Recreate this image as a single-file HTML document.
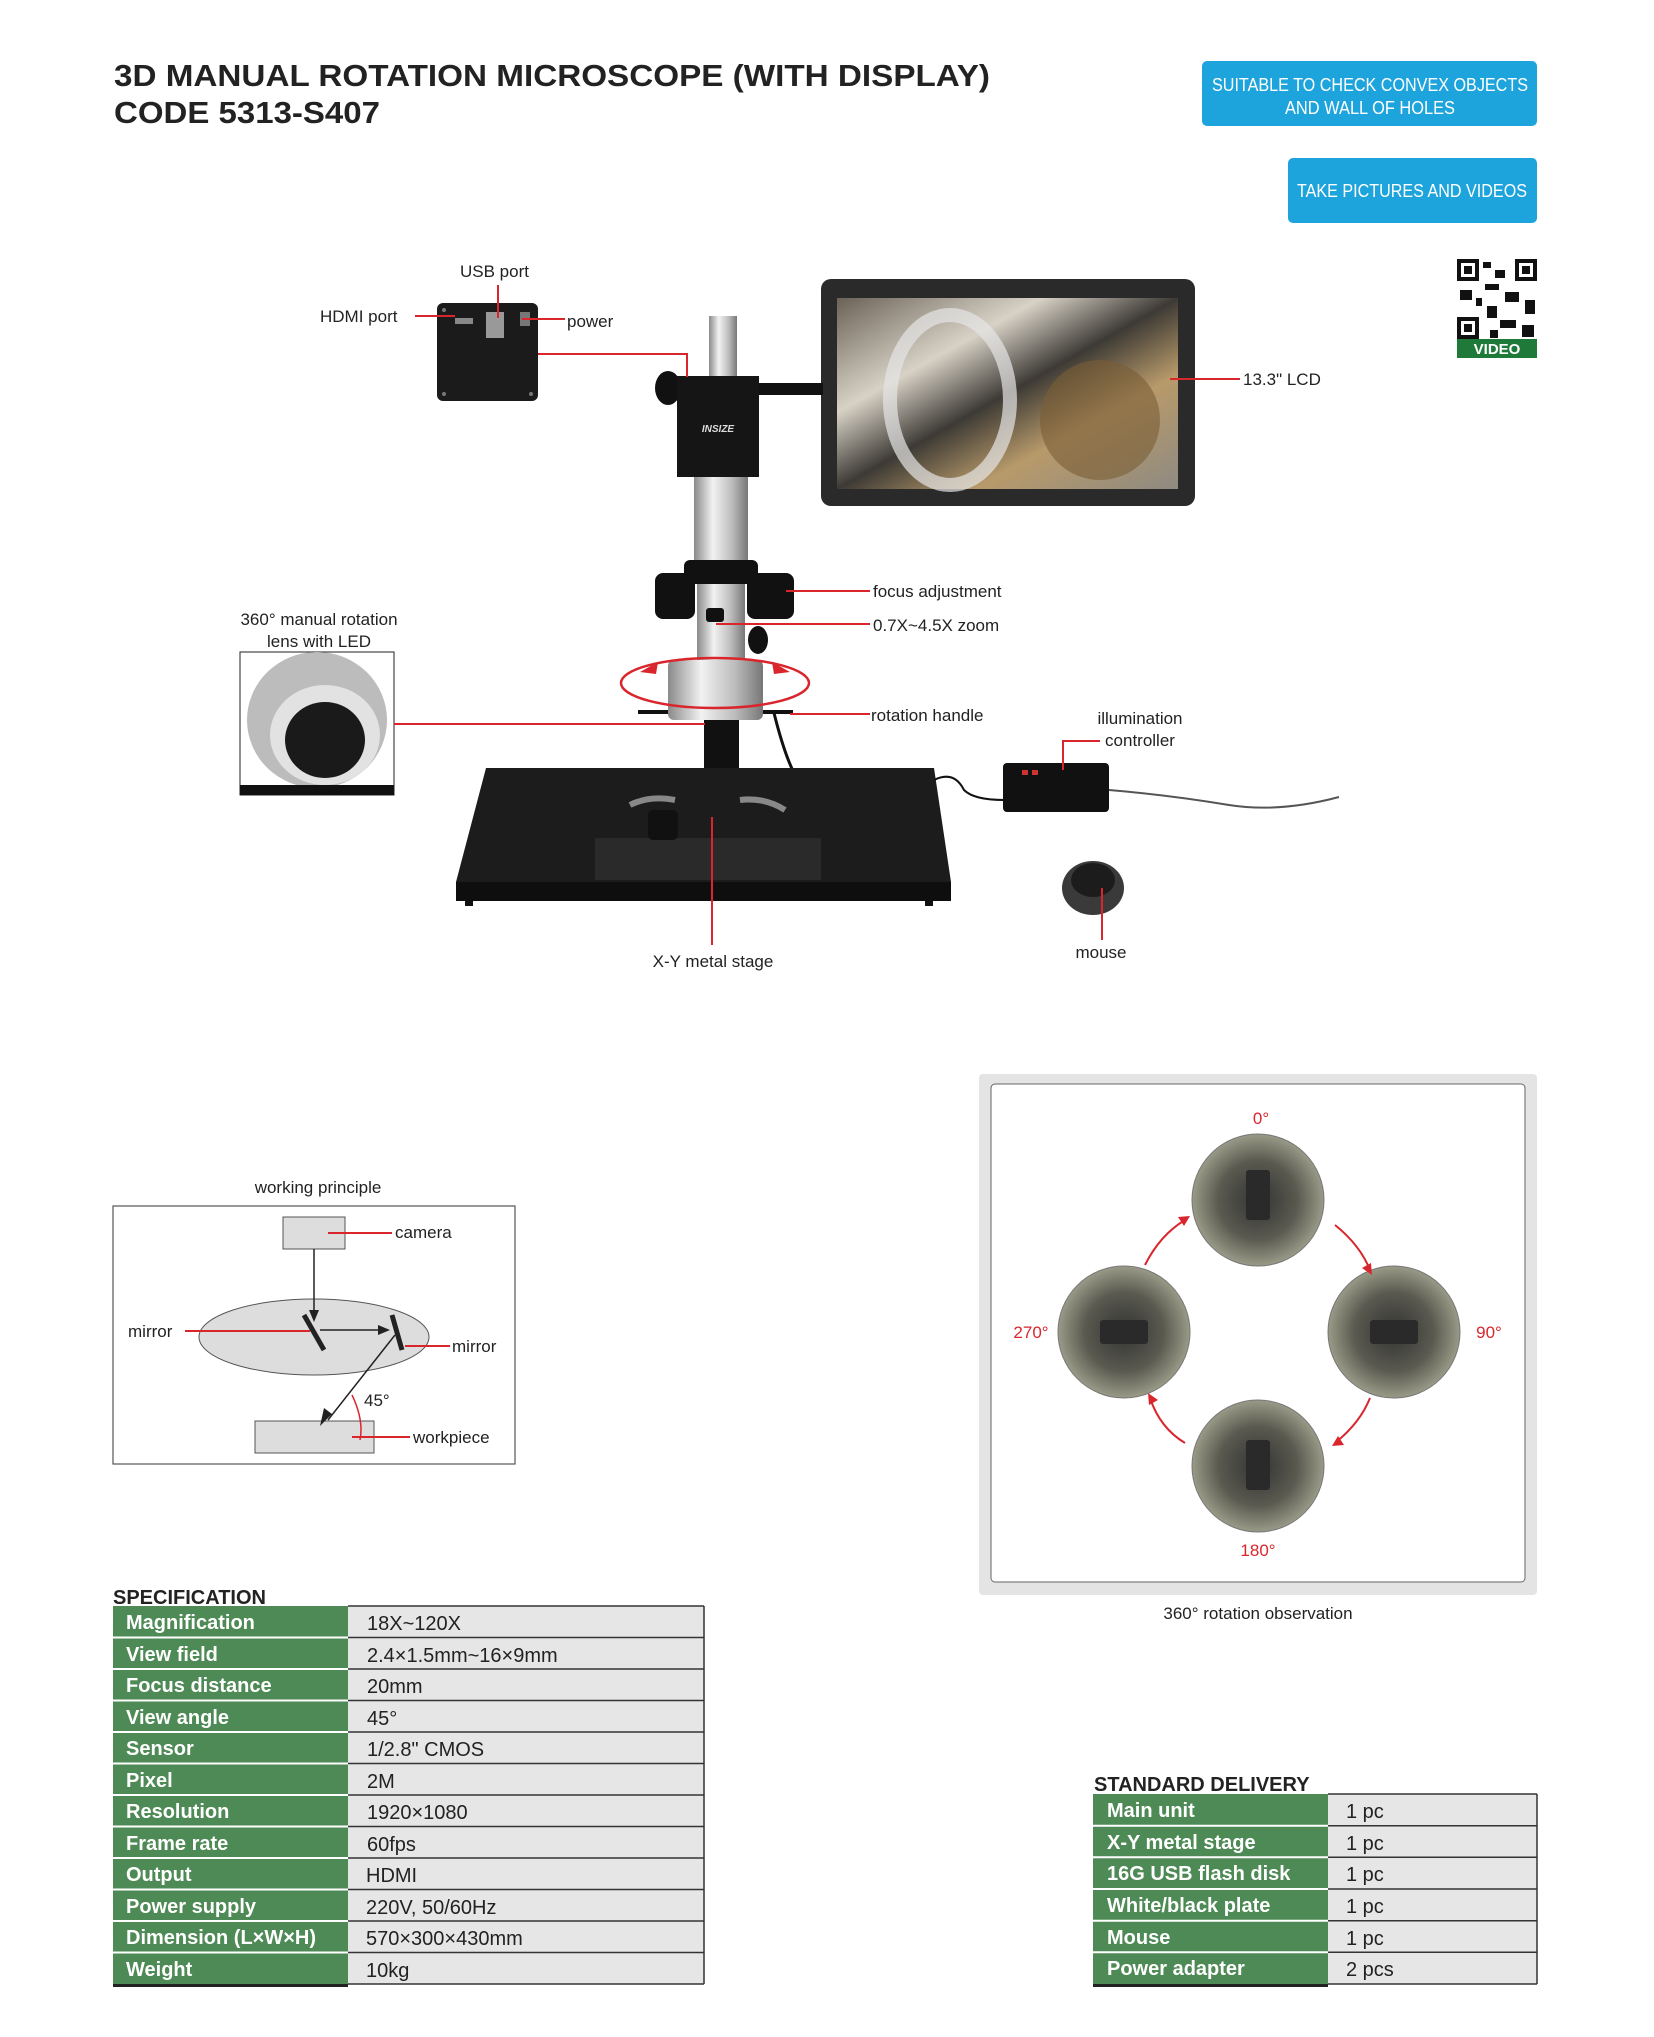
<!DOCTYPE html>
<html><head><meta charset="utf-8"><style>
html,body{margin:0;padding:0;background:#fff}
svg{display:block}
text{font-family:"Liberation Sans",sans-serif}
</style></head><body>
<svg width="1654" height="2037" viewBox="0 0 1654 2037" xmlns="http://www.w3.org/2000/svg">
<defs>
<linearGradient id="met" x1="0" x2="1"><stop offset="0" stop-color="#8a8a8a"/><stop offset=".35" stop-color="#f2f2f2"/><stop offset=".7" stop-color="#bdbdbd"/><stop offset="1" stop-color="#777"/></linearGradient>
<linearGradient id="scr" x1="0" y1="0" x2="1" y2="1"><stop offset="0" stop-color="#6b6257"/><stop offset=".3" stop-color="#d8d2c6"/><stop offset=".5" stop-color="#3d3a35"/><stop offset=".7" stop-color="#b89a6a"/><stop offset="1" stop-color="#8e8a82"/></linearGradient>
<radialGradient id="gear"><stop offset="0" stop-color="#333"/><stop offset=".6" stop-color="#5a5a50"/><stop offset="1" stop-color="#9a9a88"/></radialGradient>
</defs>
<!-- title -->
<text x="114" y="86" font-size="31" font-weight="bold" fill="#222" textLength="876" lengthAdjust="spacingAndGlyphs">3D MANUAL ROTATION MICROSCOPE (WITH DISPLAY)</text>
<text x="114" y="123" font-size="31" font-weight="bold" fill="#222" textLength="266" lengthAdjust="spacingAndGlyphs">CODE 5313-S407</text>
<!-- buttons -->
<rect x="1202" y="61" width="335" height="65" rx="5" fill="#1ea4dc"/>
<text x="1370" y="91" font-size="18" fill="#fff" text-anchor="middle" textLength="316" lengthAdjust="spacingAndGlyphs">SUITABLE TO CHECK CONVEX OBJECTS</text>
<text x="1370" y="114" font-size="18" fill="#fff" text-anchor="middle" textLength="170" lengthAdjust="spacingAndGlyphs">AND WALL OF HOLES</text>
<rect x="1288" y="158" width="249" height="65" rx="5" fill="#1ea4dc"/>
<text x="1412" y="197" font-size="18" fill="#fff" text-anchor="middle" textLength="230" lengthAdjust="spacingAndGlyphs">TAKE PICTURES AND VIDEOS</text>
<!-- QR -->
<rect x="1457" y="259" width="80" height="80" fill="#fff"/>
<g fill="#111">
<rect x="1457" y="259" width="22" height="22"/><rect x="1515" y="259" width="22" height="22"/><rect x="1457" y="317" width="22" height="22"/>
<rect x="1483" y="262" width="8" height="6"/><rect x="1495" y="270" width="10" height="8"/><rect x="1485" y="284" width="14" height="6"/><rect x="1460" y="290" width="12" height="10"/><rect x="1505" y="292" width="14" height="10"/><rect x="1525" y="300" width="10" height="14"/><rect x="1487" y="306" width="10" height="12"/><rect x="1500" y="320" width="16" height="8"/><rect x="1522" y="325" width="12" height="12"/><rect x="1476" y="298" width="6" height="8"/><rect x="1490" y="330" width="8" height="8"/>
</g>
<g fill="#fff"><rect x="1461" y="263" width="14" height="14"/><rect x="1519" y="263" width="14" height="14"/><rect x="1461" y="321" width="14" height="14"/></g>
<g fill="#111"><rect x="1464" y="266" width="8" height="8"/><rect x="1522" y="266" width="8" height="8"/><rect x="1464" y="324" width="8" height="8"/></g>
<rect x="1457" y="339" width="80" height="19" fill="#1f7a3a"/>
<text x="1497" y="354" font-size="15" font-weight="bold" fill="#fff" text-anchor="middle">VIDEO</text>

<!-- camera box -->
<rect x="437" y="303" width="101" height="98" rx="6" fill="#1b1b1b"/>
<rect x="455" y="318" width="18" height="6" fill="#888"/><rect x="486" y="312" width="18" height="26" fill="#999"/><rect x="520" y="312" width="10" height="14" fill="#777"/>
<circle cx="444" cy="310" r="2" fill="#777"/><circle cx="531" cy="394" r="2" fill="#777"/><circle cx="444" cy="394" r="2" fill="#777"/>
<!-- monitor -->
<rect x="821" y="279" width="374" height="227" rx="10" fill="#2a2a2a"/>
<rect x="837" y="298" width="341" height="191" fill="url(#scr)"/>
<ellipse cx="950" cy="400" rx="60" ry="85" fill="none" stroke="#e6e6e6" stroke-width="14" opacity=".7"/>
<ellipse cx="1100" cy="420" rx="60" ry="60" fill="#7a5e35" opacity=".6"/>
<!-- arm -->
<rect x="759" y="383" width="64" height="12" fill="#111"/>
<!-- eyepiece -->
<rect x="709" y="316" width="28" height="62" fill="url(#met)"/>
<!-- camera body -->
<ellipse cx="668" cy="388" rx="13" ry="17" fill="#111"/>
<rect x="677" y="376" width="82" height="101" fill="#151515"/>
<text x="718" y="432" font-size="10" font-weight="bold" font-style="italic" fill="#ddd" text-anchor="middle">INSIZE</text>
<!-- tube -->
<rect x="694" y="477" width="54" height="92" fill="url(#met)"/>
<rect x="684" y="560" width="74" height="24" rx="6" fill="#111"/>
<rect x="655" y="573" width="40" height="46" rx="8" fill="#111"/>
<rect x="747" y="573" width="47" height="46" rx="8" fill="#111"/>
<rect x="697" y="584" width="48" height="80" fill="url(#met)"/>
<rect x="706" y="608" width="18" height="14" rx="3" fill="#111"/>
<ellipse cx="758" cy="640" rx="10" ry="14" fill="#111"/>
<rect x="668" y="660" width="95" height="60" rx="6" fill="url(#met)"/>
<rect x="638" y="710" width="30" height="4" fill="#111"/><rect x="763" y="710" width="30" height="4" fill="#111"/>
<ellipse cx="715" cy="683" rx="94" ry="25" fill="none" stroke="#d9262c" stroke-width="2.5"/>
<path d="M640 672 l18 -10 l-2 12 z" fill="#d9262c"/><path d="M790 672 l-18 -10 l2 12 z" fill="#d9262c"/>
<rect x="704" y="720" width="35" height="55" fill="#111"/>
<path d="M774 713 q10 40 20 60" stroke="#111" stroke-width="3" fill="none"/>
<!-- base -->
<path d="M486 768 L934 768 L951 882 L456 882 Z" fill="#1c1c1c"/>
<rect x="456" y="882" width="495" height="19" fill="#0e0e0e"/>
<rect x="465" y="900" width="8" height="6" fill="#111"/><rect x="925" y="900" width="8" height="6" fill="#111"/>
<rect x="595" y="838" width="226" height="42" fill="#2a2a2a"/>
<path d="M630 805 q20 -10 45 -5" stroke="#888" stroke-width="6" fill="none"/><path d="M740 800 q25 -3 45 10" stroke="#888" stroke-width="6" fill="none"/>
<rect x="648" y="810" width="30" height="30" rx="5" fill="#111"/>
<!-- controller -->
<path d="M934 780 q20 -10 30 10 q10 10 40 10" stroke="#111" stroke-width="2" fill="none"/>
<rect x="1003" y="763" width="106" height="49" rx="4" fill="#111"/>
<rect x="1022" y="770" width="6" height="5" fill="#c33"/><rect x="1032" y="770" width="6" height="5" fill="#c33"/>
<path d="M1109 790 q60 5 120 15 q50 8 110 -8" stroke="#555" stroke-width="2" fill="none"/>
<!-- mouse -->
<ellipse cx="1093" cy="888" rx="31" ry="27" fill="#3a3a3a"/><ellipse cx="1093" cy="880" rx="22" ry="17" fill="#1c1c1c"/>
<!-- LED image -->
<rect x="240" y="652" width="154" height="143" fill="#fff" stroke="#222"/>
<ellipse cx="317" cy="720" rx="70" ry="68" fill="#bcbcbc"/>
<ellipse cx="325" cy="735" rx="55" ry="50" fill="#e2e2e2"/>
<ellipse cx="325" cy="740" rx="40" ry="38" fill="#1a1a1a"/>
<rect x="240" y="785" width="154" height="10" fill="#111"/>

<!-- leader lines -->
<g stroke="#d9262c" stroke-width="2" fill="none">
<path d="M415 316 H455"/><path d="M498 285 V318"/><path d="M522 319 H565"/>
<path d="M538 354 H687 V377"/>
<path d="M1170 379 H1240"/>
<path d="M786 591 H870"/><path d="M716 624 H870"/>
<path d="M790 714 H870"/><path d="M394 724 H705"/>
<path d="M1063 770 V741 H1100"/>
<path d="M712 817 V945"/><path d="M1102 888 V940"/>
</g>
<g font-size="17" fill="#222">
<text x="460" y="277">USB port</text>
<text x="320" y="322">HDMI port</text>
<text x="567" y="327">power</text>
<text x="1243" y="385">13.3" LCD</text>
<text x="873" y="597">focus adjustment</text>
<text x="873" y="631">0.7X~4.5X zoom</text>
<text x="319" y="625" text-anchor="middle">360° manual rotation</text>
<text x="319" y="647" text-anchor="middle">lens with LED</text>
<text x="871" y="721">rotation handle</text>
<text x="1140" y="724" text-anchor="middle">illumination</text>
<text x="1140" y="746" text-anchor="middle">controller</text>
<text x="713" y="967" text-anchor="middle">X-Y metal stage</text>
<text x="1101" y="958" text-anchor="middle">mouse</text>
</g>

<!-- working principle -->
<text x="318" y="1193" font-size="17" fill="#222" text-anchor="middle">working principle</text>
<rect x="113" y="1206" width="402" height="258" fill="#fff" stroke="#555" stroke-width="1.2"/>
<rect x="283" y="1217" width="62" height="32" fill="#ddd" stroke="#555"/>
<ellipse cx="314" cy="1337" rx="115" ry="38" fill="#ddd" stroke="#555"/>
<rect x="255" y="1421" width="119" height="32" fill="#ddd" stroke="#555"/>
<g stroke="#222" stroke-width="1.5" fill="none">
<path d="M314 1249 V1320"/><path d="M320 1330 H385"/><path d="M395 1335 L328 1420"/>
<path d="M304 1315 L324 1350" stroke-width="5"/><path d="M392 1315 L402 1350" stroke-width="5"/>
</g>
<path d="M314 1322 l-5 -12 h10 z" fill="#222"/><path d="M390 1330 l-12 -5 v10 z" fill="#222"/><path d="M320 1426 l4 -18 l8 6 z" fill="#222"/>
<path d="M352 1395 q12 25 8 45" stroke="#d9262c" stroke-width="1.5" fill="none"/>
<g stroke="#d9262c" stroke-width="2"><path d="M328 1233 H392"/><path d="M185 1331 H310"/><path d="M405 1346 H450"/><path d="M352 1437 H410"/></g>
<g font-size="17" fill="#222">
<text x="395" y="1238">camera</text><text x="128" y="1337">mirror</text><text x="452" y="1352">mirror</text>
<text x="364" y="1406">45°</text><text x="413" y="1443">workpiece</text>
</g>

<!-- rotation panel -->
<rect x="979" y="1074" width="558" height="521" rx="4" fill="#e4e4e4"/>
<rect x="991" y="1084" width="534" height="498" rx="4" fill="#fff" stroke="#666"/>
<g stroke="#777" stroke-width="1">
<circle cx="1258" cy="1200" r="66" fill="url(#gear)"/>
<circle cx="1394" cy="1332" r="66" fill="url(#gear)"/>
<circle cx="1124" cy="1332" r="66" fill="url(#gear)"/>
<circle cx="1258" cy="1466" r="66" fill="url(#gear)"/>
</g>
<g fill="#2a2a2a"><rect x="1246" y="1170" width="24" height="50" rx="3"/><rect x="1370" y="1320" width="48" height="24" rx="3"/><rect x="1100" y="1320" width="48" height="24" rx="3"/><rect x="1246" y="1440" width="24" height="50" rx="3"/></g>
<g stroke="#d9262c" stroke-width="2" fill="none">
<path d="M1145 1265 q15 -30 40 -45"/><path d="M1335 1225 q25 20 35 45"/>
<path d="M1370 1398 q-10 25 -35 45"/><path d="M1185 1443 q-25 -15 -35 -45"/>
</g>
<g fill="#d9262c"><path d="M1190 1216 l-12 1 l6 9 z"/><path d="M1372 1275 l-1 -12 l-9 5 z"/><path d="M1332 1446 l12 -1 l-6 -9 z"/><path d="M1148 1393 l1 12 l9 -5 z"/></g>
<g font-size="17" fill="#d9262c" text-anchor="middle">
<text x="1261" y="1124">0°</text><text x="1489" y="1338">90°</text><text x="1031" y="1338">270°</text><text x="1258" y="1556">180°</text>
</g>
<text x="1258" y="1619" font-size="17" fill="#222" text-anchor="middle">360° rotation observation</text>

<!-- spec table -->
<text x="113" y="1604" font-size="20" font-weight="bold" fill="#222">SPECIFICATION</text>
<g font-size="20">
<rect x="113" y="1606" width="591" height="378" fill="#e6e6e6"/>
<rect x="113" y="1606" width="235" height="378" fill="#4e8a55"/>
<g stroke="#333" stroke-width="1.5">
<path d="M348 1606 H704"/><path d="M348 1637.5 H704"/><path d="M348 1669 H704"/><path d="M348 1700.5 H704"/><path d="M348 1732 H704"/><path d="M348 1763.5 H704"/><path d="M348 1795 H704"/><path d="M348 1826.5 H704"/><path d="M348 1858 H704"/><path d="M348 1889.5 H704"/><path d="M348 1921 H704"/><path d="M348 1952.5 H704"/><path d="M348 1984 H704"/><path d="M704 1606 V1984"/>
</g>
<g stroke="#fff" stroke-width="2">
<path d="M113 1637.5 H348"/><path d="M113 1669 H348"/><path d="M113 1700.5 H348"/><path d="M113 1732 H348"/><path d="M113 1763.5 H348"/><path d="M113 1795 H348"/><path d="M113 1826.5 H348"/><path d="M113 1858 H348"/><path d="M113 1889.5 H348"/><path d="M113 1921 H348"/><path d="M113 1952.5 H348"/>
</g>
<rect x="113" y="1984" width="235" height="3" fill="#222"/>
<g fill="#fff" font-weight="bold">
<text x="126" y="1629">Magnification</text><text x="126" y="1661">View field</text><text x="126" y="1692">Focus distance</text><text x="126" y="1724">View angle</text><text x="126" y="1755">Sensor</text><text x="126" y="1787">Pixel</text><text x="126" y="1818">Resolution</text><text x="126" y="1850">Frame rate</text><text x="126" y="1881">Output</text><text x="126" y="1913">Power supply</text><text x="126" y="1944">Dimension (L×W×H)</text><text x="126" y="1976">Weight</text>
</g>
<g fill="#222">
<text x="367" y="1630">18X~120X</text><text x="367" y="1662">2.4×1.5mm~16×9mm</text><text x="367" y="1693">20mm</text><text x="367" y="1725">45°</text><text x="367" y="1756">1/2.8" CMOS</text><text x="367" y="1788">2M</text><text x="367" y="1819">1920×1080</text><text x="367" y="1851">60fps</text><text x="366" y="1882">HDMI</text><text x="366" y="1914">220V, 50/60Hz</text><text x="366" y="1945">570×300×430mm</text><text x="366" y="1977">10kg</text>
</g>
</g>

<!-- delivery -->
<text x="1094" y="1791" font-size="20" font-weight="bold" fill="#222">STANDARD DELIVERY</text>
<g font-size="20">
<rect x="1093" y="1794" width="444" height="190" fill="#e6e6e6"/>
<rect x="1093" y="1794" width="235" height="190" fill="#4e8a55"/>
<g stroke="#333" stroke-width="1.5">
<path d="M1328 1794 H1537"/><path d="M1328 1825.7 H1537"/><path d="M1328 1857.3 H1537"/><path d="M1328 1889 H1537"/><path d="M1328 1920.7 H1537"/><path d="M1328 1952.3 H1537"/><path d="M1328 1984 H1537"/><path d="M1537 1794 V1984"/>
</g>
<g stroke="#fff" stroke-width="2"><path d="M1093 1825.7 H1328"/><path d="M1093 1857.3 H1328"/><path d="M1093 1889 H1328"/><path d="M1093 1920.7 H1328"/><path d="M1093 1952.3 H1328"/></g>
<rect x="1093" y="1984" width="235" height="3" fill="#222"/>
<g fill="#fff" font-weight="bold">
<text x="1107" y="1817">Main unit</text><text x="1107" y="1849">X-Y metal stage</text><text x="1107" y="1880">16G USB flash disk</text><text x="1107" y="1912">White/black plate</text><text x="1107" y="1944">Mouse</text><text x="1107" y="1975">Power adapter</text>
</g>
<g fill="#222">
<text x="1346" y="1818">1 pc</text><text x="1346" y="1850">1 pc</text><text x="1346" y="1881">1 pc</text><text x="1346" y="1913">1 pc</text><text x="1346" y="1945">1 pc</text><text x="1346" y="1976">2 pcs</text>
</g>
</g>
</svg>
</body></html>
